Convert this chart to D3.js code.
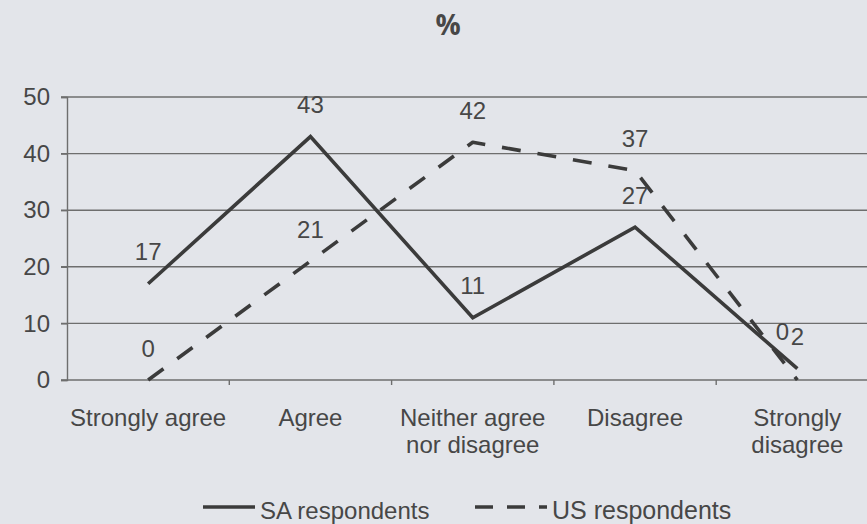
<!DOCTYPE html>
<html><head><meta charset="utf-8">
<script src="https://cdn.jsdelivr.net/npm/d3@7"></script>
<style>html,body{margin:0;padding:0;background:#e3e5ea;}svg{display:block;}</style>
</head><body>
<script>
const categories = [["Strongly agree"], ["Agree"], ["Neither agree", "nor disagree"], ["Disagree"], ["Strongly", "disagree"]];
const saValues = [17, 43, 11, 27, 2];
const usValues = [0, 21, 42, 37, 0];
const yTicks = [0, 10, 20, 30, 40, 50];
const seriesNames = ["SA respondents", "US respondents"];
const title = "%";
// manual label nudges [dx, dy] (as in original layout)
const usLabelNudge = [[0,0],[0,0],[0,0],[0,0],[-15,-17]];

const W = 867, H = 524;
const svg = d3.select("body").append("svg").attr("width", W).attr("height", H);
svg.append("rect").attr("width", W).attr("height", H).attr("fill", "#e3e5ea");

const x0 = 67, bandW = 162.3;
const x = d3.scaleBand().domain(d3.range(categories.length)).range([x0, x0 + bandW * categories.length]).padding(0);
const y = d3.scaleLinear().domain([0, 50]).range([380, 97]);
const cx = i => x(i) + x.bandwidth() / 2;

const ink = "#3b3b3b", textCol = "#474747", grid = "#6e6e6e";
const font = "'Liberation Sans', Arial, sans-serif";
const fs = 24;

// title
svg.append("text").attr("x", 448).attr("y", 35).attr("text-anchor", "middle")
  .attr("font-family", "'Open Sans', 'Liberation Sans', sans-serif").attr("font-weight", "bold")
  .attr("font-size", 28).attr("fill", textCol).text(title);

// gridlines
svg.append("g").selectAll("line").data(yTicks).join("line")
  .attr("x1", x0 - 6).attr("x2", W).attr("y1", d => y(d)).attr("y2", d => y(d))
  .attr("stroke", grid).attr("stroke-width", 1.4);

// y axis
const yAxis = d3.axisLeft(y).tickValues(yTicks).tickSize(6).tickPadding(11);
const gy = svg.append("g").attr("transform", `translate(${x0},0)`).call(yAxis);
gy.select(".domain").attr("stroke", grid).attr("stroke-width", 1.4);
gy.selectAll(".tick line").attr("stroke", grid).attr("stroke-width", 1.4);
gy.selectAll("text").attr("font-family", font).attr("font-size", fs).attr("fill", textCol);

// x axis ticks at band boundaries
svg.append("g").selectAll("line").data(d3.range(1, categories.length)).join("line")
  .attr("x1", d => x(d)).attr("x2", d => x(d)).attr("y1", y(0)).attr("y2", y(0) + 5)
  .attr("stroke", grid).attr("stroke-width", 1.4);

// category labels
const cl = svg.append("g").selectAll("text").data(categories).join("text")
  .attr("x", (d, i) => cx(i)).attr("y", 426).attr("text-anchor", "middle")
  .attr("font-family", font).attr("font-size", fs).attr("fill", textCol);
cl.selectAll("tspan").data(d => d).join("tspan")
  .attr("x", function() { return this.parentNode.getAttribute("x"); })
  .attr("dy", (d, i) => i === 0 ? 0 : 27).text(d => d);

const line = d3.line().x((d, i) => cx(i)).y(d => y(d));

// US dashed
svg.append("path").datum(usValues).attr("d", line).attr("fill", "none")
  .attr("stroke", ink).attr("stroke-width", 3.6).attr("stroke-dasharray", "19,17")
  .attr("stroke-linejoin", "round");
// SA solid
svg.append("path").datum(saValues).attr("d", line).attr("fill", "none")
  .attr("stroke", ink).attr("stroke-width", 3.6).attr("stroke-linejoin", "miter");

// data labels
function labels(vals, nudge) {
  svg.append("g").selectAll("text").data(vals).join("text")
    .attr("x", (d, i) => cx(i) + (nudge ? nudge[i][0] : 0))
    .attr("y", (d, i) => y(d) - 23.5 + (nudge ? nudge[i][1] : 0))
    .attr("text-anchor", "middle").attr("font-family", font).attr("font-size", fs)
    .attr("fill", textCol).text(d => d);
}
labels(saValues, null);
labels(usValues, usLabelNudge);

// legend
const ly = 507;
svg.append("line").attr("x1", 203).attr("x2", 255).attr("y1", ly).attr("y2", ly)
  .attr("stroke", ink).attr("stroke-width", 3.6);
svg.append("text").attr("x", 260).attr("y", ly + 12).attr("font-family", font).attr("font-size", fs)
  .attr("fill", textCol).text(seriesNames[0]);
svg.append("line").attr("x1", 475).attr("x2", 547).attr("y1", ly).attr("y2", ly)
  .attr("stroke", ink).attr("stroke-width", 3.6).attr("stroke-dasharray", "18,14");
svg.append("text").attr("x", 552).attr("y", ly + 12).attr("font-family", font).attr("font-size", 25)
  .attr("fill", textCol).text(seriesNames[1]);
</script>
</body></html>
